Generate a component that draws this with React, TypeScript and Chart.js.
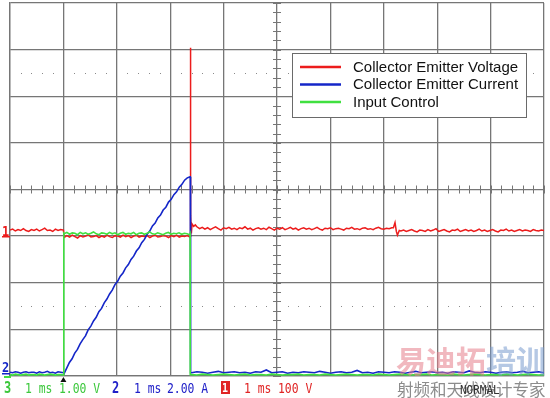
import React, { useEffect, useRef } from "react";
import { Chart, registerables } from "chart.js";

Chart.register(...registerables);

// Horizontal axis: time in ms (1 ms/div, 10 div). Vertical axis: screen divisions (8 div).
const X_MIN = 0;
const X_MAX = 10;
const Y_MIN = 0;
const Y_MAX = 8;

const seriesLabels = ["Collector Emitter Voltage", "Collector Emitter Current", "Input Control"];
const seriesColors = ["#ec1c1c", "#1426c8", "#40e040"];

// ---- Channel 1 (red): collector-emitter voltage ----
const redPreSpan = [0, 1.0];
const redPreValues = [3.13, 3.15, 3.11, 3.14, 3.12, 3.16, 3.12, 3.10, 3.14, 3.12, 3.15, 3.11, 3.14, 3.17, 3.12, 3.13, 3.10, 3.15, 3.12, 3.14, 3.13];
const redOnSpan = [1.015, 3.37];
const redOnValues = [2.97, 3.01, 2.98, 3.02, 2.99, 2.96, 3.01, 2.98, 3.0, 3.03, 2.98, 2.99, 3.01, 2.97, 3.0, 2.98, 3.02, 2.99, 2.97, 3.01, 3.0, 2.98, 3.02, 2.99, 3.01, 2.97, 3.0, 3.02, 2.98, 3.0, 2.99, 3.01, 2.97, 3.0, 3.02, 2.98, 2.99, 3.01, 3.0, 2.97, 3.01, 2.99, 3.02, 2.98, 3.0, 2.99, 3.01, 2.98];
const redSpikeTimes = [3.374, 3.377, 3.386, 3.396, 3.41, 3.44, 3.47];
const redSpikeValues = [3.0, 7.04, 3.45, 3.06, 3.26, 3.21, 3.24];
const redPostSpan = [3.5, 7.15];
const redPostValues = [3.20, 3.16, 3.19, 3.15, 3.18, 3.14, 3.17, 3.20, 3.16, 3.13, 3.18, 3.16, 3.19, 3.15, 3.17, 3.14, 3.18, 3.16, 3.20, 3.15, 3.17, 3.13, 3.16, 3.18, 3.15, 3.17, 3.14, 3.19, 3.16, 3.13, 3.17, 3.15, 3.18, 3.14, 3.16, 3.19, 3.15, 3.17, 3.13, 3.16, 3.18, 3.15, 3.17, 3.14, 3.16, 3.19, 3.15, 3.13, 3.17, 3.16, 3.18, 3.14, 3.16, 3.17, 3.15, 3.13, 3.17, 3.16, 3.19, 3.15, 3.16, 3.14, 3.17, 3.18, 3.15, 3.16, 3.14, 3.17, 3.19, 3.16, 3.15, 3.17, 3.16, 3.18];
const redBlipTimes = [7.18, 7.21, 7.235, 7.255, 7.29];
const redBlipValues = [3.18, 3.29, 3.10, 3.02, 3.12];
const redTailSpan = [7.32, 10.0];
const redTailValues = [3.11, 3.13, 3.10, 3.12, 3.14, 3.11, 3.09, 3.13, 3.12, 3.10, 3.14, 3.11, 3.13, 3.16, 3.10, 3.12, 3.14, 3.11, 3.09, 3.13, 3.12, 3.15, 3.10, 3.12, 3.14, 3.11, 3.13, 3.10, 3.12, 3.15, 3.11, 3.13, 3.10, 3.12, 3.14, 3.11, 3.09, 3.13, 3.12, 3.15, 3.11, 3.13, 3.10, 3.12, 3.14, 3.11, 3.13, 3.12, 3.10, 3.14, 3.12, 3.11, 3.13, 3.12];

// ---- Channel 2 (blue): collector-emitter current ----
const bluePreSpan = [0, 1.0];
const bluePreValues = [0.08, 0.07, 0.09, 0.08, 0.06, 0.08, 0.09, 0.07, 0.08, 0.08, 0.06, 0.09, 0.07, 0.08, 0.10, 0.07, 0.08, 0.06, 0.09, 0.08, 0.07];
const blueRampSpan = [1.012, 3.37];
const blueRampValues = [0.05, 0.17, 0.29, 0.37, 0.49, 0.57, 0.69, 0.78, 0.86, 0.99, 1.07, 1.18, 1.26, 1.38, 1.45, 1.57, 1.65, 1.76, 1.84, 1.96, 2.03, 2.14, 2.21, 2.32, 2.39, 2.50, 2.57, 2.68, 2.75, 2.86, 2.93, 3.04, 3.11, 3.22, 3.28, 3.39, 3.45, 3.56, 3.62, 3.73, 3.79, 3.89, 3.95, 4.05, 4.11, 4.20, 4.25, 4.27];
const blueDropTimes = [3.376, 3.382];
const blueDropValues = [4.27, 0.07];
const bluePostSpan = [3.4, 10.0];
const bluePostValues = [0.07, 0.09, 0.08, 0.06, 0.08, 0.10, 0.07, 0.08, 0.09, 0.07, 0.08, 0.06, 0.09, 0.08, 0.13, 0.07, 0.08, 0.09, 0.06, 0.08, 0.07, 0.09, 0.08, 0.07, 0.10, 0.08, 0.06, 0.08, 0.09, 0.07, 0.08, 0.12, 0.07, 0.08, 0.06, 0.09, 0.08, 0.07, 0.09, 0.08, 0.06, 0.08, 0.10, 0.07, 0.08, 0.09, 0.07, 0.08, 0.06, 0.09, 0.08, 0.07, 0.11, 0.08, 0.07, 0.09, 0.08, 0.06, 0.08, 0.09, 0.07, 0.08, 0.10, 0.07, 0.08, 0.09, 0.07];

// ---- Channel 3 (green): input control ----
const greenPreSpan = [0, 1.0];
const greenPreValues = [0.03, 0.02, 0.04, 0.03, 0.02, 0.03, 0.04, 0.02, 0.03, 0.03, 0.02, 0.04, 0.03, 0.02, 0.03, 0.04, 0.03, 0.02, 0.03, 0.03, 0.02];
const greenRiseTimes = [1.006, 1.009];
const greenRiseValues = [0.03, 3.06];
const greenOnSpan = [1.015, 3.365];
const greenOnValues = [3.05, 3.08, 3.04, 3.07, 3.06, 3.03, 3.08, 3.05, 3.07, 3.04, 3.06, 3.09, 3.05, 3.03, 3.07, 3.06, 3.04, 3.08, 3.05, 3.07, 3.03, 3.06, 3.08, 3.04, 3.06, 3.05, 3.08, 3.03, 3.06, 3.07, 3.04, 3.06, 3.09, 3.05, 3.04, 3.07, 3.05, 3.03, 3.06, 3.08, 3.04, 3.06, 3.05, 3.07, 3.04, 3.06, 3.05, 3.03];
const greenFallTimes = [3.372, 3.375];
const greenFallValues = [3.05, 0.03];
const greenPostSpan = [3.4, 10.0];
const greenPostValues = [0.03, 0.02, 0.04, 0.03, 0.02, 0.03, 0.04, 0.03, 0.02, 0.03, 0.04, 0.02, 0.03, 0.03, 0.02, 0.04, 0.03, 0.02, 0.03, 0.03, 0.04, 0.02, 0.03, 0.03, 0.02, 0.04, 0.03, 0.02, 0.03, 0.04, 0.03, 0.02, 0.03, 0.03, 0.02, 0.04, 0.03, 0.02, 0.03, 0.04, 0.03, 0.02, 0.03, 0.03, 0.04, 0.02, 0.03, 0.03, 0.02, 0.04, 0.03, 0.02, 0.03, 0.04, 0.03, 0.02, 0.03, 0.03, 0.02, 0.04, 0.03, 0.02, 0.03, 0.04, 0.03, 0.02, 0.03];

// ---- Screen annotations ----
const statusGreen = ["3", "1 ms", "1.00 V"];
const statusBlue = ["2", "1 ms", "2.00 A"];
const statusRed = ["1", "1 ms", "100 V"];
const modeLabel = "NORMAL";
const watermarkMain = ["易迪拓", "培训"];
const watermarkSub = "射频和天线设计专家";

type Pt = { x: number; y: number };

function spanPoints(span: number[], values: number[]): Pt[] {
  const n = values.length;
  return values.map((v, i) => ({ x: span[0] + ((span[1] - span[0]) * i) / (n - 1), y: v }));
}
function pairPoints(times: number[], values: number[]): Pt[] {
  return times.map((t, i) => ({ x: t, y: values[i] }));
}

const redData: Pt[] = [
  ...spanPoints(redPreSpan, redPreValues),
  ...spanPoints(redOnSpan, redOnValues),
  ...pairPoints(redSpikeTimes, redSpikeValues),
  ...spanPoints(redPostSpan, redPostValues),
  ...pairPoints(redBlipTimes, redBlipValues),
  ...spanPoints(redTailSpan, redTailValues),
];
const blueData: Pt[] = [
  ...spanPoints(bluePreSpan, bluePreValues),
  ...spanPoints(blueRampSpan, blueRampValues),
  ...pairPoints(blueDropTimes, blueDropValues),
  ...spanPoints(bluePostSpan, bluePostValues),
];
const greenData: Pt[] = [
  ...spanPoints(greenPreSpan, greenPreValues),
  ...pairPoints(greenRiseTimes, greenRiseValues),
  ...spanPoints(greenOnSpan, greenOnValues),
  ...pairPoints(greenFallTimes, greenFallValues),
  ...spanPoints(greenPostSpan, greenPostValues),
];

const MONO = '"DejaVu Sans Mono", "Liberation Mono", monospace';
const SANS = '"Liberation Sans", Arial, sans-serif';
const CJK = '"Noto Sans CJK SC", sans-serif';
const GRID = "#767676";

function stretchText(ctx: CanvasRenderingContext2D, text: string, x: number, base: number, size: number, color: string, bold = false, sy = 1.3) {
  ctx.save();
  ctx.translate(x, base);
  ctx.scale(1, sy);
  ctx.font = `${bold ? "bold " : ""}${size}px ${MONO}`;
  ctx.fillStyle = color;
  ctx.textAlign = "left";
  ctx.textBaseline = "alphabetic";
  ctx.fillText(text, 0, 0);
  ctx.restore();
}

const scopePlugin = {
  id: "scopeDecor",
  beforeDatasetsDraw(chart: any) {
    const ctx: CanvasRenderingContext2D = chart.ctx;
    const xs = chart.scales.x;
    const ys = chart.scales.y;
    const cx = xs.getPixelForValue(5);
    const cy = ys.getPixelForValue(4);
    ctx.save();
    ctx.strokeStyle = GRID;
    ctx.lineWidth = 1;
    ctx.beginPath();
    for (let i = 0; i <= 50; i++) {
      const px = Math.round(xs.getPixelForValue(i * 0.2)) + 0.5;
      ctx.moveTo(px, cy - 4);
      ctx.lineTo(px, cy + 4);
    }
    for (let j = 0; j <= 40; j++) {
      const py = Math.round(ys.getPixelForValue(j * 0.2)) + 0.5;
      ctx.moveTo(cx - 4, py);
      ctx.lineTo(cx + 4, py);
    }
    ctx.stroke();
    ctx.fillStyle = "#8a8a8a";
    [1.5, 6.5].forEach((lv) => {
      const py = Math.round(ys.getPixelForValue(lv));
      for (let i = 0; i <= 50; i++) {
        if (i % 5 === 0) continue;
        const px = Math.round(xs.getPixelForValue(i * 0.2));
        ctx.fillRect(px, py, 1, 1);
      }
    });
    ctx.restore();
  },
  afterDraw(chart: any) {
    const ctx: CanvasRenderingContext2D = chart.ctx;
    const xs = chart.scales.x;
    const ys = chart.scales.y;
    ctx.save();

    // Legend box
    const lx = 292.5, ly = 53.5, lw = 234, lh = 64;
    ctx.fillStyle = "#ffffff";
    ctx.fillRect(lx, ly, lw, lh);
    ctx.strokeStyle = "#6a6a6a";
    ctx.lineWidth = 1;
    ctx.strokeRect(lx, ly, lw, lh);
    const rows = [67, 84.5, 102];
    seriesLabels.forEach((lab, i) => {
      ctx.strokeStyle = seriesColors[i];
      ctx.lineWidth = 2.5;
      ctx.beginPath();
      ctx.moveTo(300, rows[i]);
      ctx.lineTo(341, rows[i]);
      ctx.stroke();
      ctx.fillStyle = "#111111";
      ctx.font = `15px ${SANS}`;
      ctx.textBaseline = "middle";
      ctx.textAlign = "left";
      ctx.fillText(lab, 353, rows[i] + 0.5);
    });

    // Channel markers on the left edge
    const red1 = ys.getPixelForValue(3.0);
    stretchText(ctx, "1", 2, red1, 12, seriesColors[0], true, 1.2);
    ctx.fillStyle = seriesColors[0];
    ctx.fillRect(2, Math.round(red1), 8, 1.5);
    const blue2 = ys.getPixelForValue(0.07);
    stretchText(ctx, "2", 2, blue2 - 1, 12, seriesColors[1], true, 1.2);
    ctx.fillStyle = seriesColors[1];
    ctx.fillRect(2, Math.round(blue2), 8, 1.5);
    ctx.fillStyle = seriesColors[2];
    ctx.fillRect(4, 376, 7, 2);

    // Trigger marker
    const tx = xs.getPixelForValue(1.0);
    ctx.fillStyle = "#111111";
    ctx.beginPath();
    ctx.moveTo(tx, 377);
    ctx.lineTo(tx - 3, 382);
    ctx.lineTo(tx + 3, 382);
    ctx.closePath();
    ctx.fill();

    // Watermark
    ctx.font = `bold 30px ${CJK}`;
    ctx.textBaseline = "alphabetic";
    ctx.fillStyle = "rgba(230,125,138,0.55)";
    ctx.fillText(watermarkMain[0], 396, 372);
    const w0 = ctx.measureText(watermarkMain[0]).width;
    ctx.fillStyle = "rgba(120,155,205,0.55)";
    ctx.fillText(watermarkMain[1], 396 + w0, 372);
    ctx.font = `16.5px ${CJK}`;
    ctx.fillStyle = "#8c8c8c";
    ctx.fillText(watermarkSub, 397, 396);

    // Status line
    const base = 393;
    const g = "#3cc83c", b = "#2020c8", r = "#e02424";
    stretchText(ctx, statusGreen[0], 4, base, 12, g, true, 1.3);
    stretchText(ctx, statusGreen[1], 25, base, 11.4, g, false, 1.3);
    stretchText(ctx, statusGreen[2], 59, base, 11.4, g, false, 1.3);
    stretchText(ctx, statusBlue[0], 112, base, 12, b, true, 1.3);
    stretchText(ctx, statusBlue[1], 134, base, 11.4, b, false, 1.3);
    stretchText(ctx, statusBlue[2], 167, base, 11.4, b, false, 1.3);
    ctx.fillStyle = r;
    ctx.fillRect(221, 381, 9, 13);
    stretchText(ctx, statusRed[0], 222, base - 1, 10, "#ffffff", true, 1.2);
    stretchText(ctx, statusRed[1], 244, base, 11.4, r, false, 1.3);
    stretchText(ctx, statusRed[2], 278, base, 11.4, r, false, 1.3);
    stretchText(ctx, modeLabel, 460, 394, 11, "#333333", false, 1.1);

    ctx.restore();
  },
};

export default function App() {
  const ref = useRef<HTMLCanvasElement | null>(null);
  useEffect(() => {
    if (!ref.current) return;
    const chart = new Chart(ref.current, {
      type: "line",
      data: {
        datasets: [
          { label: seriesLabels[0], data: redData, borderColor: seriesColors[0], borderWidth: 1.5, pointRadius: 0, tension: 0, order: 2 },
          { label: seriesLabels[1], data: blueData, borderColor: seriesColors[1], borderWidth: 1.6, pointRadius: 0, tension: 0, order: 1 },
          { label: seriesLabels[2], data: greenData, borderColor: seriesColors[2], borderWidth: 1.6, pointRadius: 0, tension: 0, order: 0 },
        ],
      },
      options: {
        responsive: false,
        animation: false,
        events: [],
        layout: { padding: { left: 10, right: 6, top: 3, bottom: 22 } },
        plugins: { legend: { display: false }, tooltip: { enabled: false }, title: { display: false } },
        scales: {
          x: {
            type: "linear",
            min: X_MIN,
            max: X_MAX,
            ticks: { display: false, stepSize: 1 },
            grid: { color: GRID, lineWidth: 1.3, drawTicks: false },
            border: { display: true, color: GRID, width: 1.3 },
          },
          y: {
            type: "linear",
            min: Y_MIN,
            max: Y_MAX,
            ticks: { display: false, stepSize: 1 },
            grid: { color: GRID, lineWidth: 1.3, drawTicks: false },
            border: { display: true, color: GRID, width: 1.3 },
          },
        },
      },
      plugins: [scopePlugin],
    });
    return () => chart.destroy();
  }, []);
  return (
    <div style={{ position: "fixed", left: 0, top: 0, width: 550, height: 398, background: "#ffffff" }}>
      <canvas ref={ref} width={550} height={398} style={{ display: "block" }} />
    </div>
  );
}
